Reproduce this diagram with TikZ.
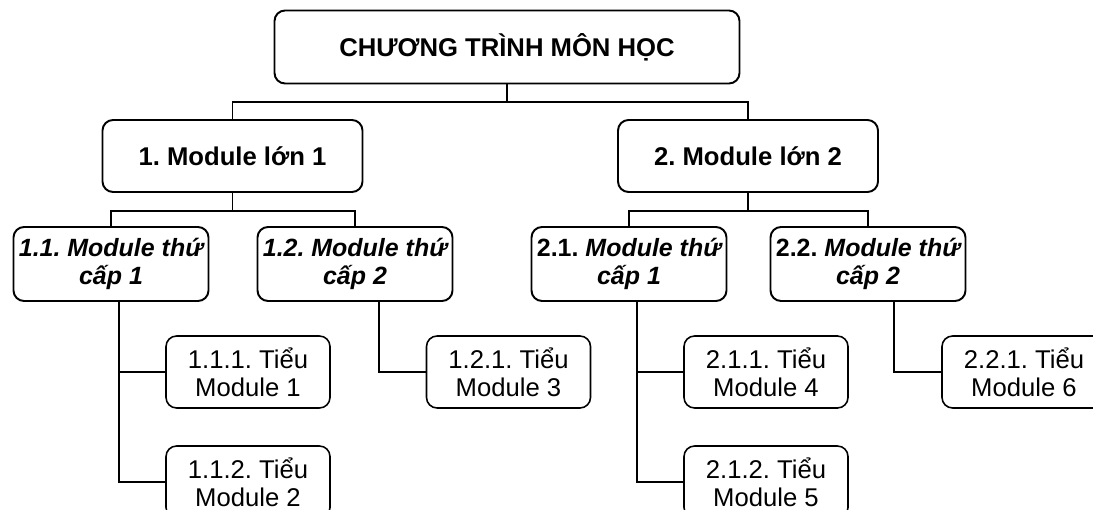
\documentclass[tikz,border=0pt]{standalone}
\usepackage{fontspec}
\setmainfont{Liberation Sans}
\frenchspacing
\usetikzlibrary{positioning}
\tikzset{
  rootbox/.style={rectangle, draw=black, rounded corners=6pt, line width=1.1pt,
                  minimum width=9.3cm, minimum height=1.46cm, align=center,
                  font=\fontsize{14.6}{16}\selectfont\bfseries},
  bigbox/.style={rectangle, draw=black, rounded corners=6pt, line width=1.1pt,
                 minimum width=5.2cm, minimum height=1.44cm, align=center,
                 font=\fontsize{14.6}{16}\selectfont\bfseries},
  subbox/.style={rectangle, draw=black, rounded corners=6pt, line width=1.1pt,
                 minimum width=3.9cm, minimum height=1.48cm, align=center,
                 inner sep=1pt, font=\fontsize{14.2}{15.6}\selectfont\bfseries\itshape},
  leafbox/.style={rectangle, draw=black, rounded corners=6pt, line width=0.9pt,
                  minimum width=3.28cm, minimum height=1.44cm, align=center,
                  font=\fontsize{14.6}{16}\selectfont},
  link/.style={draw=black, line width=1.1pt},
}
\begin{document}
\begin{tikzpicture}
  \useasboundingbox (0,0) rectangle (21.86,-10.2);

  % top
  \node[rootbox] (root) at (10.14,-0.94) {CHƯƠNG TRÌNH MÔN HỌC};
  \node[bigbox] (m1) at (4.65,-3.12) {1. Module lớn 1};
  \node[bigbox] (m2) at (14.96,-3.12) {2. Module lớn 2};

  \draw[link] (root.south) -- ++(0,-0.35) coordinate (j0);
  \draw[link] (m1.north) |- (j0) -| (m2.north);

  % second level
  \node[subbox] (s11) at (2.22,-5.28) {1.1. Module thứ\\cấp 1};
  \node[subbox] (s12) at (7.1,-5.28) {1.2. Module thứ\\cấp 2};
  \node[subbox] (s21) at (12.58,-5.28) {{\upshape 2.1.} Module thứ\\cấp 1};
  \node[subbox] (s22) at (17.36,-5.28) {{\upshape 2.2.} Module thứ\\cấp 2};

  \draw[link] (m1.south) -- ++(0,-0.36) coordinate (j1);
  \draw[link] (s11.north) |- (j1) -| (s12.north);
  \draw[link] (m2.south) -- ++(0,-0.36) coordinate (j2);
  \draw[link] (s21.north) |- (j2) -| (s22.north);

  % leaves
  \node[leafbox] (t111) at (4.96,-7.44) {1.1.1. Tiểu\\Module 1};
  \node[leafbox] (t112) at (4.96,-9.64) {1.1.2. Tiểu\\Module 2};
  \node[leafbox] (t121) at (10.17,-7.44) {1.2.1. Tiểu\\Module 3};
  \node[leafbox] (t211) at (15.32,-7.44) {2.1.1. Tiểu\\Module 4};
  \node[leafbox] (t212) at (15.32,-9.64) {2.1.2. Tiểu\\Module 5};
  \node[leafbox] (t221) at (20.48,-7.44) {2.2.1. Tiểu\\Module 6};

  \draw[link] ([xshift=0.16cm]s11.south) |- (t111.west);
  \draw[link] ([xshift=0.16cm]s11.south) |- (t112.west);
  \draw[link] ([xshift=0.48cm]s12.south) |- (t121.west);
  \draw[link] ([xshift=0.16cm]s21.south) |- (t211.west);
  \draw[link] ([xshift=0.16cm]s21.south) |- (t212.west);
  \draw[link] ([xshift=0.52cm]s22.south) |- (t221.west);
\end{tikzpicture}
\end{document}
